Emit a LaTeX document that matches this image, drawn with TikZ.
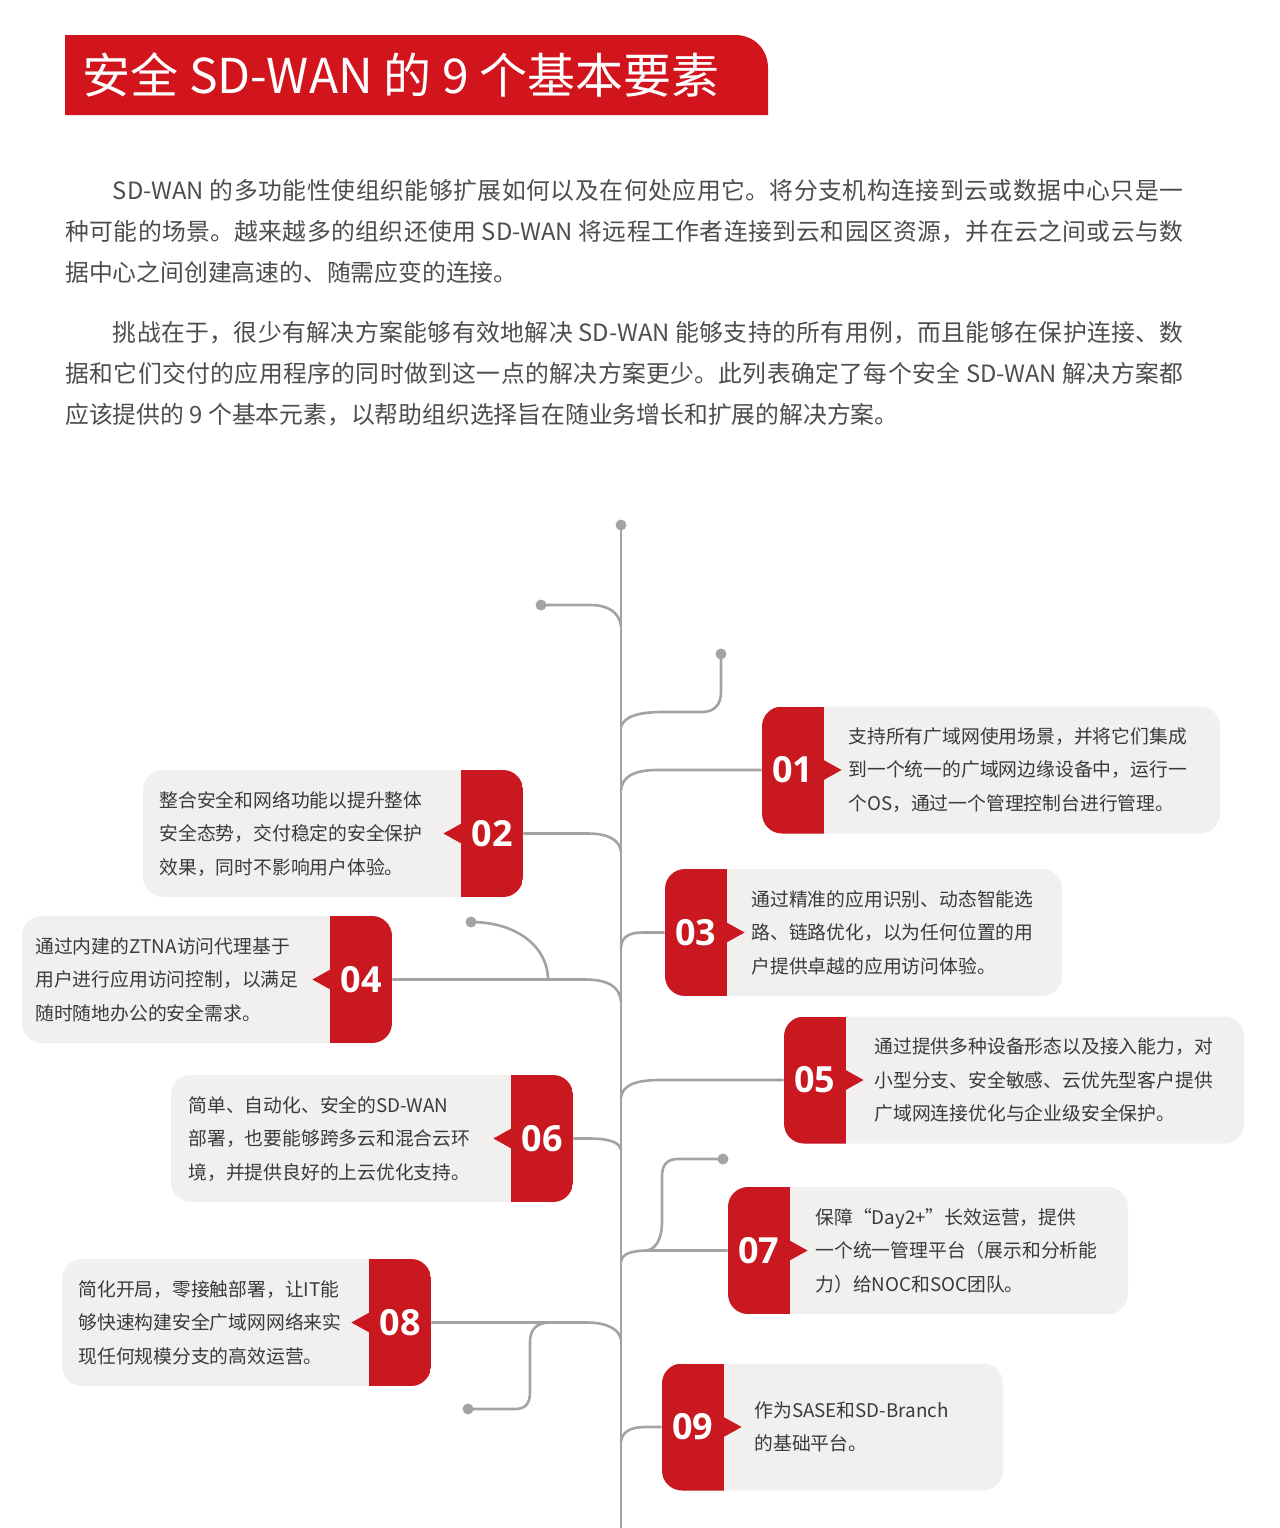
\documentclass[tikz,border=0pt]{standalone}
\usepackage{fontspec}
\setmainfont{Noto Sans CJK SC}
\newfontfamily\numfont{Open Sans}
\XeTeXlinebreaklocale "zh"
\XeTeXlinebreakskip=0pt plus 2pt minus 0.5pt
\usetikzlibrary{positioning}
\definecolor{titlered}{HTML}{D2141C}
\definecolor{cardred}{HTML}{C9181F}
\definecolor{cardgray}{HTML}{F2F0EF}
\definecolor{linegray}{HTML}{A3A3A3}
\definecolor{bodytext}{HTML}{4D4D4D}
\definecolor{cardtext}{HTML}{3A3A3A}
\tikzset{
  branch/.style={draw=linegray, line width=1.3pt},
  dot/.style={circle, fill=linegray, inner sep=0pt, minimum size=5.5pt},
  cardR/.style={rounded corners=10pt, fill=cardgray, inner sep=0pt, minimum height=63.5pt,
    path picture={\fill[cardred, sharp corners] (path picture bounding box.south west) rectangle ([xshift=31pt]path picture bounding box.north west);}},
  cardL/.style={rounded corners=10pt, fill=cardgray, inner sep=0pt, minimum height=63.5pt,
    path picture={\fill[cardred, sharp corners] ([xshift=-31pt]path picture bounding box.south east) rectangle (path picture bounding box.north east);}},
  num/.style={text=white, font=\numfont\bfseries\fontsize{18}{18}\selectfont, inner sep=0pt},
  desc/.style={text=cardtext, font=\fontsize{9.4}{16.75}\selectfont, align=left, inner sep=0pt, anchor=west},
  para/.style={text=bodytext, font=\fontsize{11.9}{20.5}\selectfont, text width=559pt, align=justify, inner sep=0pt, anchor=north west}
}
% pointers on the red part
\newcommand{\tipR}[1]{\fill[cardred] ([xshift=31pt,yshift=5pt]#1.west) -- ++(9pt,-5pt) -- ++(-9pt,-5pt) -- cycle;}
\newcommand{\tipL}[1]{\fill[cardred] ([xshift=-31pt,yshift=5pt]#1.east) -- ++(-9pt,-5pt) -- ++(9pt,-5pt) -- cycle;}
\begin{document}
\begin{tikzpicture}[x=0.5pt, y=-0.5pt]
  \useasboundingbox (0,0) rectangle (1280,1528);

  % heading
  \fill[titlered] (65,115) -- (65,35) -- (735,35) .. controls (754,35) and (768,49) .. (768,68) -- (768,115) -- cycle;
  \node[anchor=west, text=white, font=\fontsize{24}{24}\selectfont, inner sep=0pt] (title) at (82,75) {安全 SD-WAN 的 9 个基本要素};

  \node[para] (p1) at (65,179) {\hspace*{2em}SD-WAN 的多功能性使组织能够扩展如何以及在何处应用它。将分支机构连接到云或数据中心只是一\linebreak 种可能的场景。越来越多的组织还使用 SD-WAN 将远程工作者连接到云和园区资源，并在云之间或云与数\linebreak 据中心之间创建高速的、随需应变的连接。};
  \node[para] (p2) at (65,321) {\hspace*{2em}挑战在于，很少有解决方案能够有效地解决 SD-WAN 能够支持的所有用例，而且能够在保护连接、数\linebreak 据和它们交付的应用程序的同时做到这一点的解决方案更少。此列表确定了每个安全 SD-WAN 解决方案都\linebreak 应该提供的 9 个基本元素，以帮助组织选择旨在随业务增长和扩展的解决方案。};

  % cards
  \node[cardR, minimum width=229pt] (c01) at (991,770) {};
  \tipR{c01}
  \node[num] (n01) at ([xshift=15.5pt]c01.west) {01};
  \node[desc] (d01) at (848,770) {支持所有广域网使用场景，并将它们集成\\到一个统一的广域网边缘设备中，运行一\\个OS，通过一个管理控制台进行管理。};

  \node[cardL, minimum width=190pt] (c02) at (333,833.5) {};
  \tipL{c02}
  \node[num] (n02) at ([xshift=-15.5pt]c02.east) {02};
  \node[desc] (d02) at (159,833.5) {整合安全和网络功能以提升整体\\安全态势，交付稳定的安全保护\\效果，同时不影响用户体验。};

  \node[cardR, minimum width=198.5pt] (c03) at (863.5,932.5) {};
  \tipR{c03}
  \node[num] (n03) at ([xshift=15.5pt]c03.west) {03};
  \node[desc] (d03) at (751,932.5) {通过精准的应用识别、动态智能选\\路、链路优化，以为任何位置的用\\户提供卓越的应用访问体验。};

  \node[cardL, minimum width=185pt] (c04) at (207,979.5) {};
  \tipL{c04}
  \node[num] (n04) at ([xshift=-15.5pt]c04.east) {04};
  \node[desc] (d04) at (35,979.5) {通过内建的ZTNA访问代理基于\\用户进行应用访问控制，以满足\\随时随地办公的安全需求。};

  \node[cardR, minimum width=230pt] (c05) at (1014,1080) {};
  \tipR{c05}
  \node[num] (n05) at ([xshift=15.5pt]c05.west) {05};
  \node[desc] (d05) at (874,1080) {通过提供多种设备形态以及接入能力，对\\小型分支、安全敏感、云优先型客户提供\\广域网连接优化与企业级安全保护。};

  \node[cardL, minimum width=201pt] (c06) at (372,1138.5) {};
  \tipL{c06}
  \node[num] (n06) at ([xshift=-15.5pt]c06.east) {06};
  \node[desc] (d06) at (188,1138.5) {简单、自动化、安全的SD-WAN\\部署，也要能够跨多云和混合云环\\境，并提供良好的上云优化支持。};

  \node[cardR, minimum width=200pt] (c07) at (928,1250.5) {};
  \tipR{c07}
  \node[num] (n07) at ([xshift=15.5pt]c07.west) {07};
  \node[desc] (d07) at (815,1250.5) {保障“Day2+”长效运营，提供\\一个统一管理平台（展示和分析能\\力）给NOC和SOC团队。};

  \node[cardL, minimum width=184.5pt] (c08) at (246.5,1322.5) {};
  \tipL{c08}
  \node[num] (n08) at ([xshift=-15.5pt]c08.east) {08};
  \node[desc] (d08) at (78,1322.5) {简化开局，零接触部署，让IT能\\够快速构建安全广域网网络来实\\现任何规模分支的高效运营。};

  \node[cardR, minimum width=170.5pt] (c09) at (832.5,1427) {};
  \tipR{c09}
  \node[num] (n09) at ([xshift=15.5pt]c09.west) {09};
  \node[desc] (d09) at (754,1427) {作为SASE和SD-Branch\\的基础平台。};

  % trunk and twigs
  \node[dot] (top) at (621,525) {};
  \coordinate (bottom) at (621,1528);
  \draw[branch] (top.center) -- (bottom);

  \node[dot] (tw1) at (541,605) {};
  \draw[branch] (tw1.center) -- (590,605) .. controls (608,605) and (619,612) .. (621,626);
  \node[dot] (tw2) at (721,654) {};
  \draw[branch] (tw2.center) -- (721,692) .. controls (721,705) and (714,712) .. (702,712) -- (662,712) .. controls (640,712) and (624,716) .. (621,727);
  \node[dot] (tw3) at (471,922) {};
  \draw[branch] (tw3.center) .. controls (518,922) and (548,948) .. (548,979.5);
  \node[dot] (tw4) at (723,1159) {};
  \draw[branch] (tw4.center) -- (678,1159) .. controls (667,1159) and (662,1165) .. (662,1176) -- (662,1222) .. controls (662,1240) and (655,1250.5) .. (645,1250.5);
  \node[dot] (tw5) at (468,1409) {};
  \draw[branch] (tw5.center) -- (515,1409) .. controls (526,1409) and (530,1403) .. (530,1392) -- (530,1342) .. controls (530,1330) and (536,1322.5) .. (550,1322.5);

  % branches to the cards
  \draw[branch] (c01.west) -- (657,770) .. controls (632,770) and (622,778) .. (621,790);
  \draw[branch] (c02.east) -- (588,833.5) .. controls (608,833.5) and (620,840) .. (621,852);
  \draw[branch] (c03.west) -- (642,932.5) .. controls (628,932.5) and (621,938) .. (621,948);
  \draw[branch] (c04.east) -- (585,979.5) .. controls (607,979.5) and (620,986) .. (621,1002);
  \draw[branch] (c05.west) -- (660,1080) .. controls (634,1080) and (622,1086) .. (621,1098);
  \draw[branch] (c06.east) -- (590,1138.5) .. controls (608,1138.5) and (620,1142) .. (621,1150);
  \draw[branch] (c07.west) -- (650,1250.5) .. controls (630,1250.5) and (622,1254) .. (621,1262);
  \draw[branch] (c08.east) -- (587,1322.5) .. controls (608,1322.5) and (620,1330) .. (621,1340);
  \draw[branch] (c09.west) -- (645,1427) .. controls (630,1427) and (622,1432) .. (621,1442);
\end{tikzpicture}
\end{document}
